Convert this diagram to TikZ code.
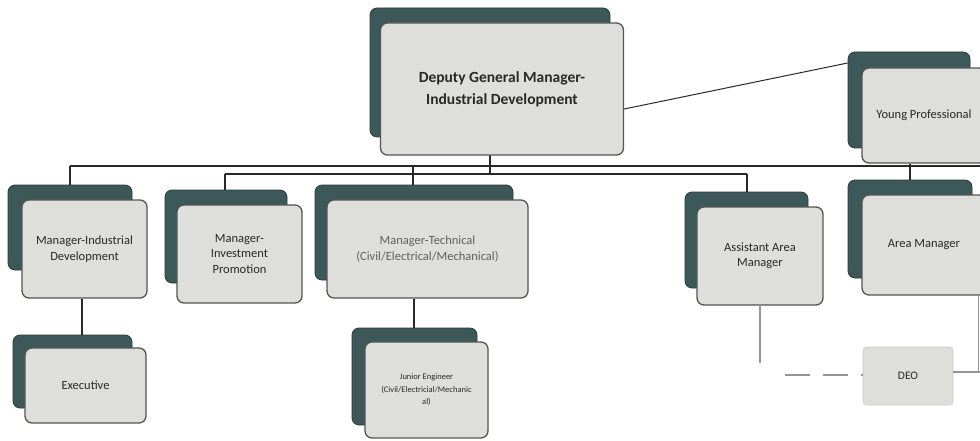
\documentclass[tikz,border=0pt]{standalone}
\usepackage{fontspec}
\setmainfont{Carlito}
\usetikzlibrary{calc}
\definecolor{backc}{RGB}{60,88,88}
\definecolor{backedge}{RGB}{45,58,58}
\definecolor{frontc}{RGB}{222,222,218}
\definecolor{frontedge}{RGB}{85,85,85}
\definecolor{textc}{RGB}{40,40,40}
\definecolor{linec}{RGB}{40,40,40}
\definecolor{lightline}{RGB}{150,150,150}
\begin{document}
\begin{tikzpicture}[x=1pt,y=-1pt,
  backbox/.style={draw=backedge, fill=backc, rounded corners=7pt, line width=0.8pt, inner sep=0pt},
  frontbox/.style={draw=frontedge, fill=frontc, rounded corners=7pt, line width=1.3pt, align=center, text=textc, font=\fontsize{12.5}{15.5}\selectfont, inner sep=0pt},
  plainbox/.style={draw=frontc!90!black, fill=frontc, rounded corners=4pt, line width=0.6pt, align=center, text=textc, font=\fontsize{11.5}{14}\selectfont, inner sep=0pt},
  link/.style={draw=linec, line width=1.1pt},
  faintlink/.style={draw=lightline, line width=1.3pt},
]
\useasboundingbox (0,0) rectangle (980,441);
\clip (0,0) rectangle (980,441);

% junction coordinates
\coordinate (jtop) at (490,166);
\coordinate (jlow) at (490,174);
\coordinate (busR) at (980,166);
\coordinate (busL) at (70,166);
\coordinate (lowL) at (225,174);
\coordinate (lowR) at (747,174);

% connectors drawn first (behind boxes)
\draw[link] (busL) -- (busR);
\draw[link] (lowL) -- (lowR);
\draw[link] (490,150) coordinate (dgmdrop) -- (jlow);

% Deputy General Manager
\node[backbox, minimum width=240pt, minimum height=129pt] (dgmb) at (490,72.5) {};
\node[frontbox, minimum width=243pt, minimum height=132pt, font=\bfseries\fontsize{15.5}{22}\selectfont] (dgm) at (502,89) {Deputy General Manager-\\Industrial Development};

% Young Professional
\node[backbox, minimum width=122pt, minimum height=96pt] (ypb) at (909,100) {};
\node[frontbox, minimum width=124pt, minimum height=95pt] (yp) at (924,115.5) {Young Professional};

% Manager-Industrial Development
\node[backbox, minimum width=124pt, minimum height=85pt] (midb) at (70,227.5) {};
\node[frontbox, minimum width=125pt, minimum height=98pt] (mid) at (84.5,249) {Manager-Industrial\\Development};

% Manager-Investment Promotion
\node[backbox, minimum width=122pt, minimum height=93pt] (mipb) at (226,236.5) {};
\node[frontbox, minimum width=125pt, minimum height=98pt] (mip) at (239.5,254) {Manager-\\Investment\\Promotion};

% Manager-Technical
\node[backbox, minimum width=198pt, minimum height=95pt] (mtb) at (414,232.5) {};
\node[frontbox, minimum width=201pt, minimum height=98pt, text={rgb,255:red,95;green,95;blue,95}] (mt) at (427.5,249) {Manager-Technical\\(Civil/Electrical/Mechanical)};

% Assistant Area Manager
\node[backbox, minimum width=123pt, minimum height=96pt] (aamb) at (746.5,240) {};
\node[frontbox, minimum width=126pt, minimum height=98pt] (aam) at (760,256) {Assistant Area\\Manager};

% Area Manager
\node[backbox, minimum width=124pt, minimum height=98pt] (amb) at (910,229) {};
\node[frontbox, minimum width=124pt, minimum height=100pt] (am) at (924,245) {Area Manager};

% Executive
\node[backbox, minimum width=119pt, minimum height=73pt] (exb) at (72.5,371.5) {};
\node[frontbox, minimum width=121pt, minimum height=75pt] (ex) at (85.5,385.5) {Executive};

% Junior Engineer
\node[backbox, minimum width=125pt, minimum height=97pt] (jeb) at (414.5,376.5) {};
\node[frontbox, minimum width=123pt, minimum height=96pt, font=\fontsize{8.5}{12.5}\selectfont] (je) at (426.5,390) {Junior Engineer\\(Civil/Electricial/Mechanic\\al)};

% DEO
\node[plainbox, minimum width=90pt, minimum height=58pt] (deo) at (908,376) {DEO};

% drops from buses to boxes
\draw[link] (busL) -- (busL |- midb.north);
\draw[link] (lowL) -- (lowL |- mipb.north);
\draw[link] (busL -| 413,0) -- (413,0 |- mtb.north);
\draw[link] (lowR) -- (lowR |- aamb.north);
\draw[link] (busL -| 910,0) -- (910,0 |- amb.north);
\draw[link] (yp.south -| 910,0) -- (busL -| 910,0);

% DGM to Young Professional
\draw[link, line width=1pt] (dgm.east |- 0,109) -- (ypb.west |- 0,63);

% lower connectors
\draw[link] (mid.south -| 82,0) -- (82,0 |- exb.north);
\draw[link] (mt.south -| 414,0) -- (414,0 |- jeb.north);
\draw[faintlink] (aam.south -| 760,0) -- (760,363) coordinate (aamend);
\draw[faintlink, dash pattern=on 25pt off 13pt] (785,375) coordinate (dashA) -- (deo.west |- 0,375);
\draw[faintlink] (deo.east |- 0,372) -- (980,372) coordinate (deoR);
\draw[faintlink, line width=1pt] (am.south -| 978.5,0) -- (978.5,372);
\end{tikzpicture}
\end{document}
